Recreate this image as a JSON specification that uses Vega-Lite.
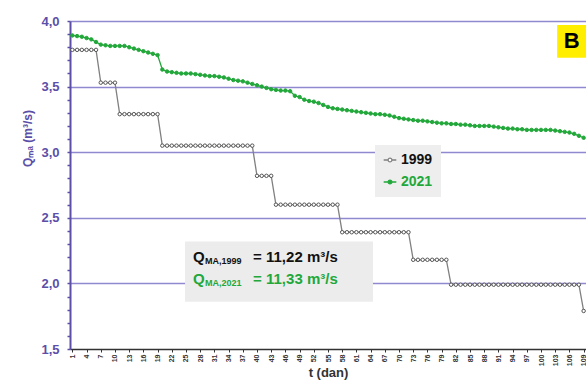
{
  "$schema": "https://vega.github.io/schema/vega-lite/v6.json",
  "width": 516,
  "height": 328,
  "autosize": {"type": "none"},
  "padding": {"left": 70, "top": 21, "right": 0, "bottom": 33},
  "background": "white",
  "config": {"view": {"stroke": null}, "font": "Liberation Sans"},
  "data": {"values": [
    {"day":1,"1999":3.78,"2021":3.89},{"day":2,"1999":3.78,"2021":3.885},{"day":3,"1999":3.78,"2021":3.88},{"day":4,"1999":3.78,"2021":3.87},{"day":5,"1999":3.78,"2021":3.86},{"day":6,"1999":3.78,"2021":3.84},{"day":7,"1999":3.53,"2021":3.82},{"day":8,"1999":3.53,"2021":3.815},{"day":9,"1999":3.53,"2021":3.81},{"day":10,"1999":3.53,"2021":3.81},
    {"day":11,"1999":3.29,"2021":3.81},{"day":12,"1999":3.29,"2021":3.81},{"day":13,"1999":3.29,"2021":3.8},{"day":14,"1999":3.29,"2021":3.79},{"day":15,"1999":3.29,"2021":3.78},{"day":16,"1999":3.29,"2021":3.77},{"day":17,"1999":3.29,"2021":3.76},{"day":18,"1999":3.29,"2021":3.75},{"day":19,"1999":3.29,"2021":3.74},{"day":20,"1999":3.05,"2021":3.63},
    {"day":21,"1999":3.05,"2021":3.615},{"day":22,"1999":3.05,"2021":3.61},{"day":23,"1999":3.05,"2021":3.605},{"day":24,"1999":3.05,"2021":3.6},{"day":25,"1999":3.05,"2021":3.6},{"day":26,"1999":3.05,"2021":3.6},{"day":27,"1999":3.05,"2021":3.595},{"day":28,"1999":3.05,"2021":3.59},{"day":29,"1999":3.05,"2021":3.585},{"day":30,"1999":3.05,"2021":3.58},
    {"day":31,"1999":3.05,"2021":3.58},{"day":32,"1999":3.05,"2021":3.575},{"day":33,"1999":3.05,"2021":3.57},{"day":34,"1999":3.05,"2021":3.56},{"day":35,"1999":3.05,"2021":3.55},{"day":36,"1999":3.05,"2021":3.545},{"day":37,"1999":3.05,"2021":3.54},{"day":38,"1999":3.05,"2021":3.53},{"day":39,"1999":3.05,"2021":3.52},{"day":40,"1999":2.82,"2021":3.51},
    {"day":41,"1999":2.82,"2021":3.5},{"day":42,"1999":2.82,"2021":3.49},{"day":43,"1999":2.82,"2021":3.48},{"day":44,"1999":2.6,"2021":3.475},{"day":45,"1999":2.6,"2021":3.47},{"day":46,"1999":2.6,"2021":3.47},{"day":47,"1999":2.6,"2021":3.465},{"day":48,"1999":2.6,"2021":3.43},{"day":49,"1999":2.6,"2021":3.42},{"day":50,"1999":2.6,"2021":3.4},
    {"day":51,"1999":2.6,"2021":3.39},{"day":52,"1999":2.6,"2021":3.385},{"day":53,"1999":2.6,"2021":3.375},{"day":54,"1999":2.6,"2021":3.36},{"day":55,"1999":2.6,"2021":3.345},{"day":56,"1999":2.6,"2021":3.335},{"day":57,"1999":2.6,"2021":3.33},{"day":58,"1999":2.39,"2021":3.325},{"day":59,"1999":2.39,"2021":3.32},{"day":60,"1999":2.39,"2021":3.315},
    {"day":61,"1999":2.39,"2021":3.31},{"day":62,"1999":2.39,"2021":3.305},{"day":63,"1999":2.39,"2021":3.3},{"day":64,"1999":2.39,"2021":3.295},{"day":65,"1999":2.39,"2021":3.29},{"day":66,"1999":2.39,"2021":3.29},{"day":67,"1999":2.39,"2021":3.285},{"day":68,"1999":2.39,"2021":3.28},{"day":69,"1999":2.39,"2021":3.27},{"day":70,"1999":2.39,"2021":3.26},
    {"day":71,"1999":2.39,"2021":3.255},{"day":72,"1999":2.39,"2021":3.25},{"day":73,"1999":2.18,"2021":3.245},{"day":74,"1999":2.18,"2021":3.24},{"day":75,"1999":2.18,"2021":3.24},{"day":76,"1999":2.18,"2021":3.235},{"day":77,"1999":2.18,"2021":3.23},{"day":78,"1999":2.18,"2021":3.225},{"day":79,"1999":2.18,"2021":3.22},{"day":80,"1999":2.18,"2021":3.22},
    {"day":81,"1999":1.99,"2021":3.215},{"day":82,"1999":1.99,"2021":3.215},{"day":83,"1999":1.99,"2021":3.21},{"day":84,"1999":1.99,"2021":3.21},{"day":85,"1999":1.99,"2021":3.205},{"day":86,"1999":1.99,"2021":3.2},{"day":87,"1999":1.99,"2021":3.2},{"day":88,"1999":1.99,"2021":3.2},{"day":89,"1999":1.99,"2021":3.2},{"day":90,"1999":1.99,"2021":3.195},
    {"day":91,"1999":1.99,"2021":3.19},{"day":92,"1999":1.99,"2021":3.185},{"day":93,"1999":1.99,"2021":3.18},{"day":94,"1999":1.99,"2021":3.18},{"day":95,"1999":1.99,"2021":3.175},{"day":96,"1999":1.99,"2021":3.175},{"day":97,"1999":1.99,"2021":3.17},{"day":98,"1999":1.99,"2021":3.17},{"day":99,"1999":1.99,"2021":3.17},{"day":100,"1999":1.99,"2021":3.17},
    {"day":101,"1999":1.99,"2021":3.17},{"day":102,"1999":1.99,"2021":3.17},{"day":103,"1999":1.99,"2021":3.165},{"day":104,"1999":1.99,"2021":3.16},{"day":105,"1999":1.99,"2021":3.155},{"day":106,"1999":1.99,"2021":3.15},{"day":107,"1999":1.99,"2021":3.14},{"day":108,"1999":1.99,"2021":3.125},{"day":109,"1999":1.79,"2021":3.11}
  ]},
  "transform": [{"fold": ["1999", "2021"], "as": ["series", "q"]}],
  "layer": [
    {
      "mark": {"type": "line", "strokeWidth": 1.3},
      "encoding": {
        "x": {"field": "day", "type": "quantitative",
          "scale": {"domain": [0.5, 109.5], "nice": false, "zero": false},
          "axis": {"values": [1,4,7,10,13,16,19,22,25,28,31,34,37,40,43,46,49,52,55,58,61,64,67,70,73,76,79,82,85,88,91,94,97,100,103,106,109],
            "tickCount": 500, "format": "d",
            "title": "t (dan)", "labelAngle": -90, "labelFontSize": 7, "labelFontWeight": "bold", "labelColor": "#333333",
            "labelFlush": false, "labelOverlap": false, "labelPadding": 2,
            "domainColor": "#333333", "domainWidth": 1.5, "tickColor": "#333333", "tickSize": 3, "grid": false,
            "titleFontSize": 13, "titleFontWeight": "bold", "titleColor": "#333333", "titlePadding": 1}},
        "y": {"field": "q", "type": "quantitative",
          "scale": {"domain": [1.5, 4.0], "nice": false, "zero": false},
          "axis": {"values": [1.5,1.6,1.7,1.8,1.9,2.0,2.1,2.2,2.3,2.4,2.5,2.6,2.7,2.8,2.9,3.0,3.1,3.2,3.3,3.4,3.5,3.6,3.7,3.8,3.9,4.0],
            "tickCount": 500, "labelOverlap": false,
            "labelExpr": "abs(round(datum.value*10) % 5) == 0 ? replace(format(datum.value, '.1f'), '.', ',') : ''",
            "labelFontSize": 13, "labelFontWeight": "bold", "labelColor": "#5b4fa8", "labelPadding": 8,
            "domainColor": "#5b4fa8", "domainWidth": 2, "tickColor": "#5b4fa8", "tickSize": 3, "tickWidth": 1.5,
            "grid": true, "gridColor": "#8f89cf", "gridWidth": 1.5,
            "gridOpacity": {"condition": {"test": "datum.value > 1.6 && abs(round(datum.value*10) % 5) == 0", "value": 1}, "value": 0},
            "title": "Qₘₐ (m³/s)", "titleFontSize": 12, "titleFontWeight": "bold", "titleColor": "#5b4fa8",
            "titleAngle": -90, "titleX": -43, "titleY": 117, "titleAlign": "center", "titleBaseline": "middle"}},
        "color": {"field": "series", "type": "nominal",
          "scale": {"domain": ["1999", "2021"], "range": ["#808080", "#22a83a"]},
          "legend": {"orient": "none", "legendX": 305, "legendY": 124, "title": null,
            "fillColor": "#eeeeee", "padding": 8, "rowPadding": 8,
            "labelFont": "Liberation Sans", "labelFontSize": 14, "labelFontWeight": "bold", "labelOffset": 4,
            "symbolType": "M-1,0H-0.3M0.3,0H1M0.3,0A0.3,0.3,0,1,1,-0.3,0A0.3,0.3,0,1,1,0.3,0",
            "symbolSize": 160, "symbolStrokeWidth": 1.3,
            "encode": {
              "labels": {"update": {"fill": {"signal": "datum.value === '1999' ? '#111111' : '#22a83a'"}}},
              "symbols": {"update": {"fill": {"signal": "datum.value === '1999' ? '#ffffff' : '#22a83a'"}, "stroke": {"signal": "datum.value === '1999' ? '#555555' : '#22a83a'"}}}
            }}}
      }
    },
    {
      "mark": {"type": "point", "shape": "circle", "size": 12, "strokeWidth": 1, "opacity": 1},
      "encoding": {
        "x": {"field": "day", "type": "quantitative"},
        "y": {"field": "q", "type": "quantitative"},
        "fill": {"field": "series", "type": "nominal", "scale": {"domain": ["1999", "2021"], "range": ["#ffffff", "#22a83a"]}, "legend": null},
        "stroke": {"field": "series", "type": "nominal", "scale": {"domain": ["1999", "2021"], "range": ["#555555", "#22a83a"]}, "legend": null}
      }
    },
    {
      "data": {"values": [{}]},
      "transform": [],
      "mark": {"type": "rect", "fill": "#ececec"},
      "encoding": {
        "x": {"datum": 24.8}, "x2": {"datum": 64.5},
        "y": {"datum": 2.32}, "y2": {"datum": 1.86}
      }
    },
    {
      "data": {"values": [{}]},
      "transform": [],
      "mark": {"type": "rect", "fill": "#ffee00"},
      "encoding": {
        "x": {"datum": 103.4}, "x2": {"datum": 112},
        "y": {"datum": 3.97}, "y2": {"datum": 3.72}
      }
    },
    {
      "data": {"values": [{}]},
      "transform": [],
      "mark": {"type": "text", "text": "B", "fontSize": 22, "fontWeight": "bold", "color": "#000000", "align": "center", "baseline": "middle"},
      "encoding": {"x": {"datum": 106.5}, "y": {"datum": 3.845}}
    },
    {
      "data": {"values": [{"label": "Q", "sub": "MA,1999", "rest": "= 11,22 m³/s", "row": 2.205, "col": "#111111"}, {"label": "Q", "sub": "MA,2021", "rest": "= 11,33 m³/s", "row": 2.03, "col": "#22a83a"}]},
      "transform": [],
      "layer": [
        {"mark": {"type": "text", "fontSize": 15, "fontWeight": "bold", "align": "left", "baseline": "middle"},
         "encoding": {"x": {"datum": 26.5}, "y": {"field": "row", "type": "quantitative"}, "text": {"field": "label"}, "color": {"field": "col", "type": "nominal", "scale": null}}},
        {"mark": {"type": "text", "fontSize": 9, "fontWeight": "bold", "align": "left", "baseline": "middle", "dx": 12, "dy": 4},
         "encoding": {"x": {"datum": 26.5}, "y": {"field": "row", "type": "quantitative"}, "text": {"field": "sub"}, "color": {"field": "col", "type": "nominal", "scale": null}}},
        {"mark": {"type": "text", "fontSize": 15, "fontWeight": "bold", "align": "left", "baseline": "middle", "dx": 60},
         "encoding": {"x": {"datum": 26.5}, "y": {"field": "row", "type": "quantitative"}, "text": {"field": "rest"}, "color": {"field": "col", "type": "nominal", "scale": null}}}
      ]
    }
  ]
}
